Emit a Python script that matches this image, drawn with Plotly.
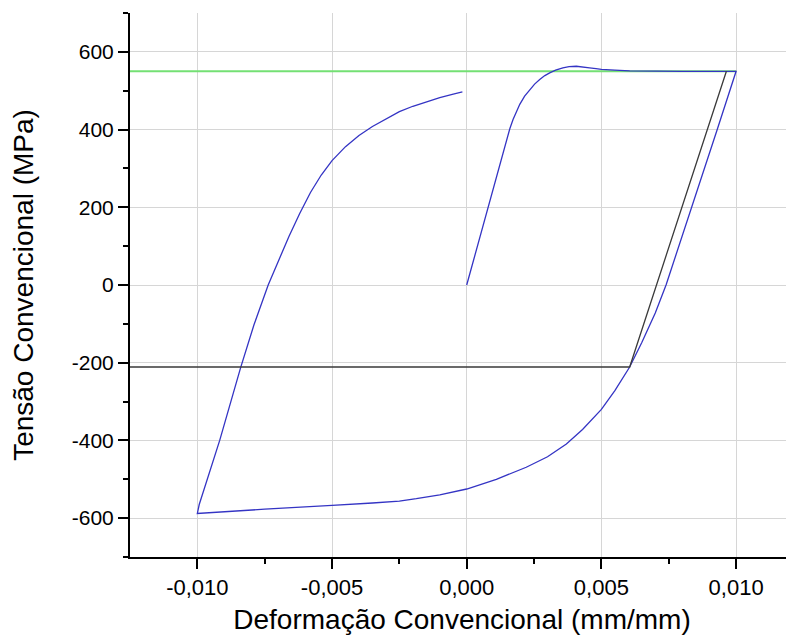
import plotly.graph_objects as go

# Blue hysteresis curve: initial loading, unloading, reloading
strain_blue = [
    # initial loading
    0.0, 0.0008, 0.0015, 0.0016, 0.00172, 0.00185, 0.00197, 0.00215, 0.00234,
    0.00252, 0.00271, 0.0029, 0.00308, 0.0033, 0.00357, 0.0038, 0.00407, 0.0043,
    0.00456, 0.0048, 0.0050, 0.0055, 0.00605, 0.0080, 0.0100,
    # unloading / compression
    0.0093, 0.00835, 0.0074, 0.0070, 0.0065, 0.00605, 0.0055, 0.0050, 0.0043,
    0.0037, 0.0030, 0.00221, 0.0011, 0.0, -0.0010, -0.00187, -0.0025, -0.0035,
    -0.00434, -0.0050, -0.0075, -0.0100,
    # reloading
    -0.00993, -0.00976, -0.00917, -0.00839, -0.0079, -0.00737, -0.0070, -0.0066,
    -0.0062, -0.0058, -0.0054, -0.0050, -0.0045, -0.0040, -0.0035, -0.0030,
    -0.0025, -0.0020, -0.0015, -0.0010, -0.0005, -0.00016,
]
stress_blue = [
    0, 200, 380, 402, 426, 447, 465, 486, 503,
    517, 529, 539, 546, 553, 559, 562, 563, 562,
    559, 557, 555, 553, 551, 550, 550,
    400, 200, 0, -72, -148, -211, -272, -320, -372,
    -409, -442, -469, -500, -525, -540, -550, -556, -561,
    -565, -567, -577, -588,
    -565, -529, -400, -212, -103, 0, 62, 125,
    184, 238, 283, 320, 356, 385, 408, 428,
    446, 460, 472, 482, 491, 497,
]

# Black construction lines
strain_black = [0.00964, 0.00605, -0.0125]
stress_black = [550, -211, -211]

# Green reference line
strain_green = [-0.0125, 0.0100]
stress_green = [550, 550]

x_tickvals = [-0.010, -0.005, 0.000, 0.005, 0.010]
x_ticktext = ["-0,010", "-0,005", "0,000", "0,005", "0,010"]
x_minor = [-0.0075, -0.0025, 0.0025, 0.0075]
y_tickvals = [-600, -400, -200, 0, 200, 400, 600]
y_ticktext = ["-600", "-400", "-200", "0", "200", "400", "600"]
y_minor = [-700, -500, -300, -100, 100, 300, 500, 700]

fig = go.Figure()
fig.add_trace(go.Scatter(x=strain_green, y=stress_green, mode="lines",
                         line=dict(color="#74e074", width=2), showlegend=False))
fig.add_trace(go.Scatter(x=strain_blue, y=stress_blue, mode="lines",
                         line=dict(color="#3434c4", width=1.3), showlegend=False))
fig.add_trace(go.Scatter(x=strain_black, y=stress_black, mode="lines",
                         line=dict(color="#3a3a3a", width=1.3), showlegend=False))

font_family = "Liberation Sans, Arial, sans-serif"
fig.update_layout(
    width=786, height=635,
    margin=dict(l=122, r=0, t=5, b=86),
    paper_bgcolor="white", plot_bgcolor="white",
    font=dict(family=font_family, color="black"),
    xaxis=dict(
        range=[-0.0125, 0.01215], automargin=False,
        tickmode="array", tickvals=x_tickvals, ticktext=x_ticktext,
        ticks="outside", ticklen=10, tickwidth=2, tickcolor="black",
        showline=True, linecolor="black", linewidth=2,
        showgrid=True, gridcolor="#d6d6d6", gridwidth=1, zeroline=False,
        tickfont=dict(size=22),
        minor=dict(tickvals=x_minor, ticks="outside", ticklen=5, tickwidth=2,
                   tickcolor="black", showgrid=False),
        title=dict(text="Deformação Convencional (mm/mm)", font=dict(size=28), standoff=10),
    ),
    yaxis=dict(
        range=[-700, 700], automargin=False,
        tickmode="array", tickvals=y_tickvals, ticktext=y_ticktext,
        ticks="outside", ticklen=10, tickwidth=2, tickcolor="black",
        showline=True, linecolor="black", linewidth=2,
        showgrid=True, gridcolor="#d6d6d6", gridwidth=1, zeroline=False,
        tickfont=dict(size=21),
        minor=dict(tickvals=y_minor, ticks="outside", ticklen=5, tickwidth=2,
                   tickcolor="black", showgrid=False),
        title=dict(text="Tensão Convencional (MPa)", font=dict(size=28), standoff=30),
    ),
)

fig.write_html("out.html")
